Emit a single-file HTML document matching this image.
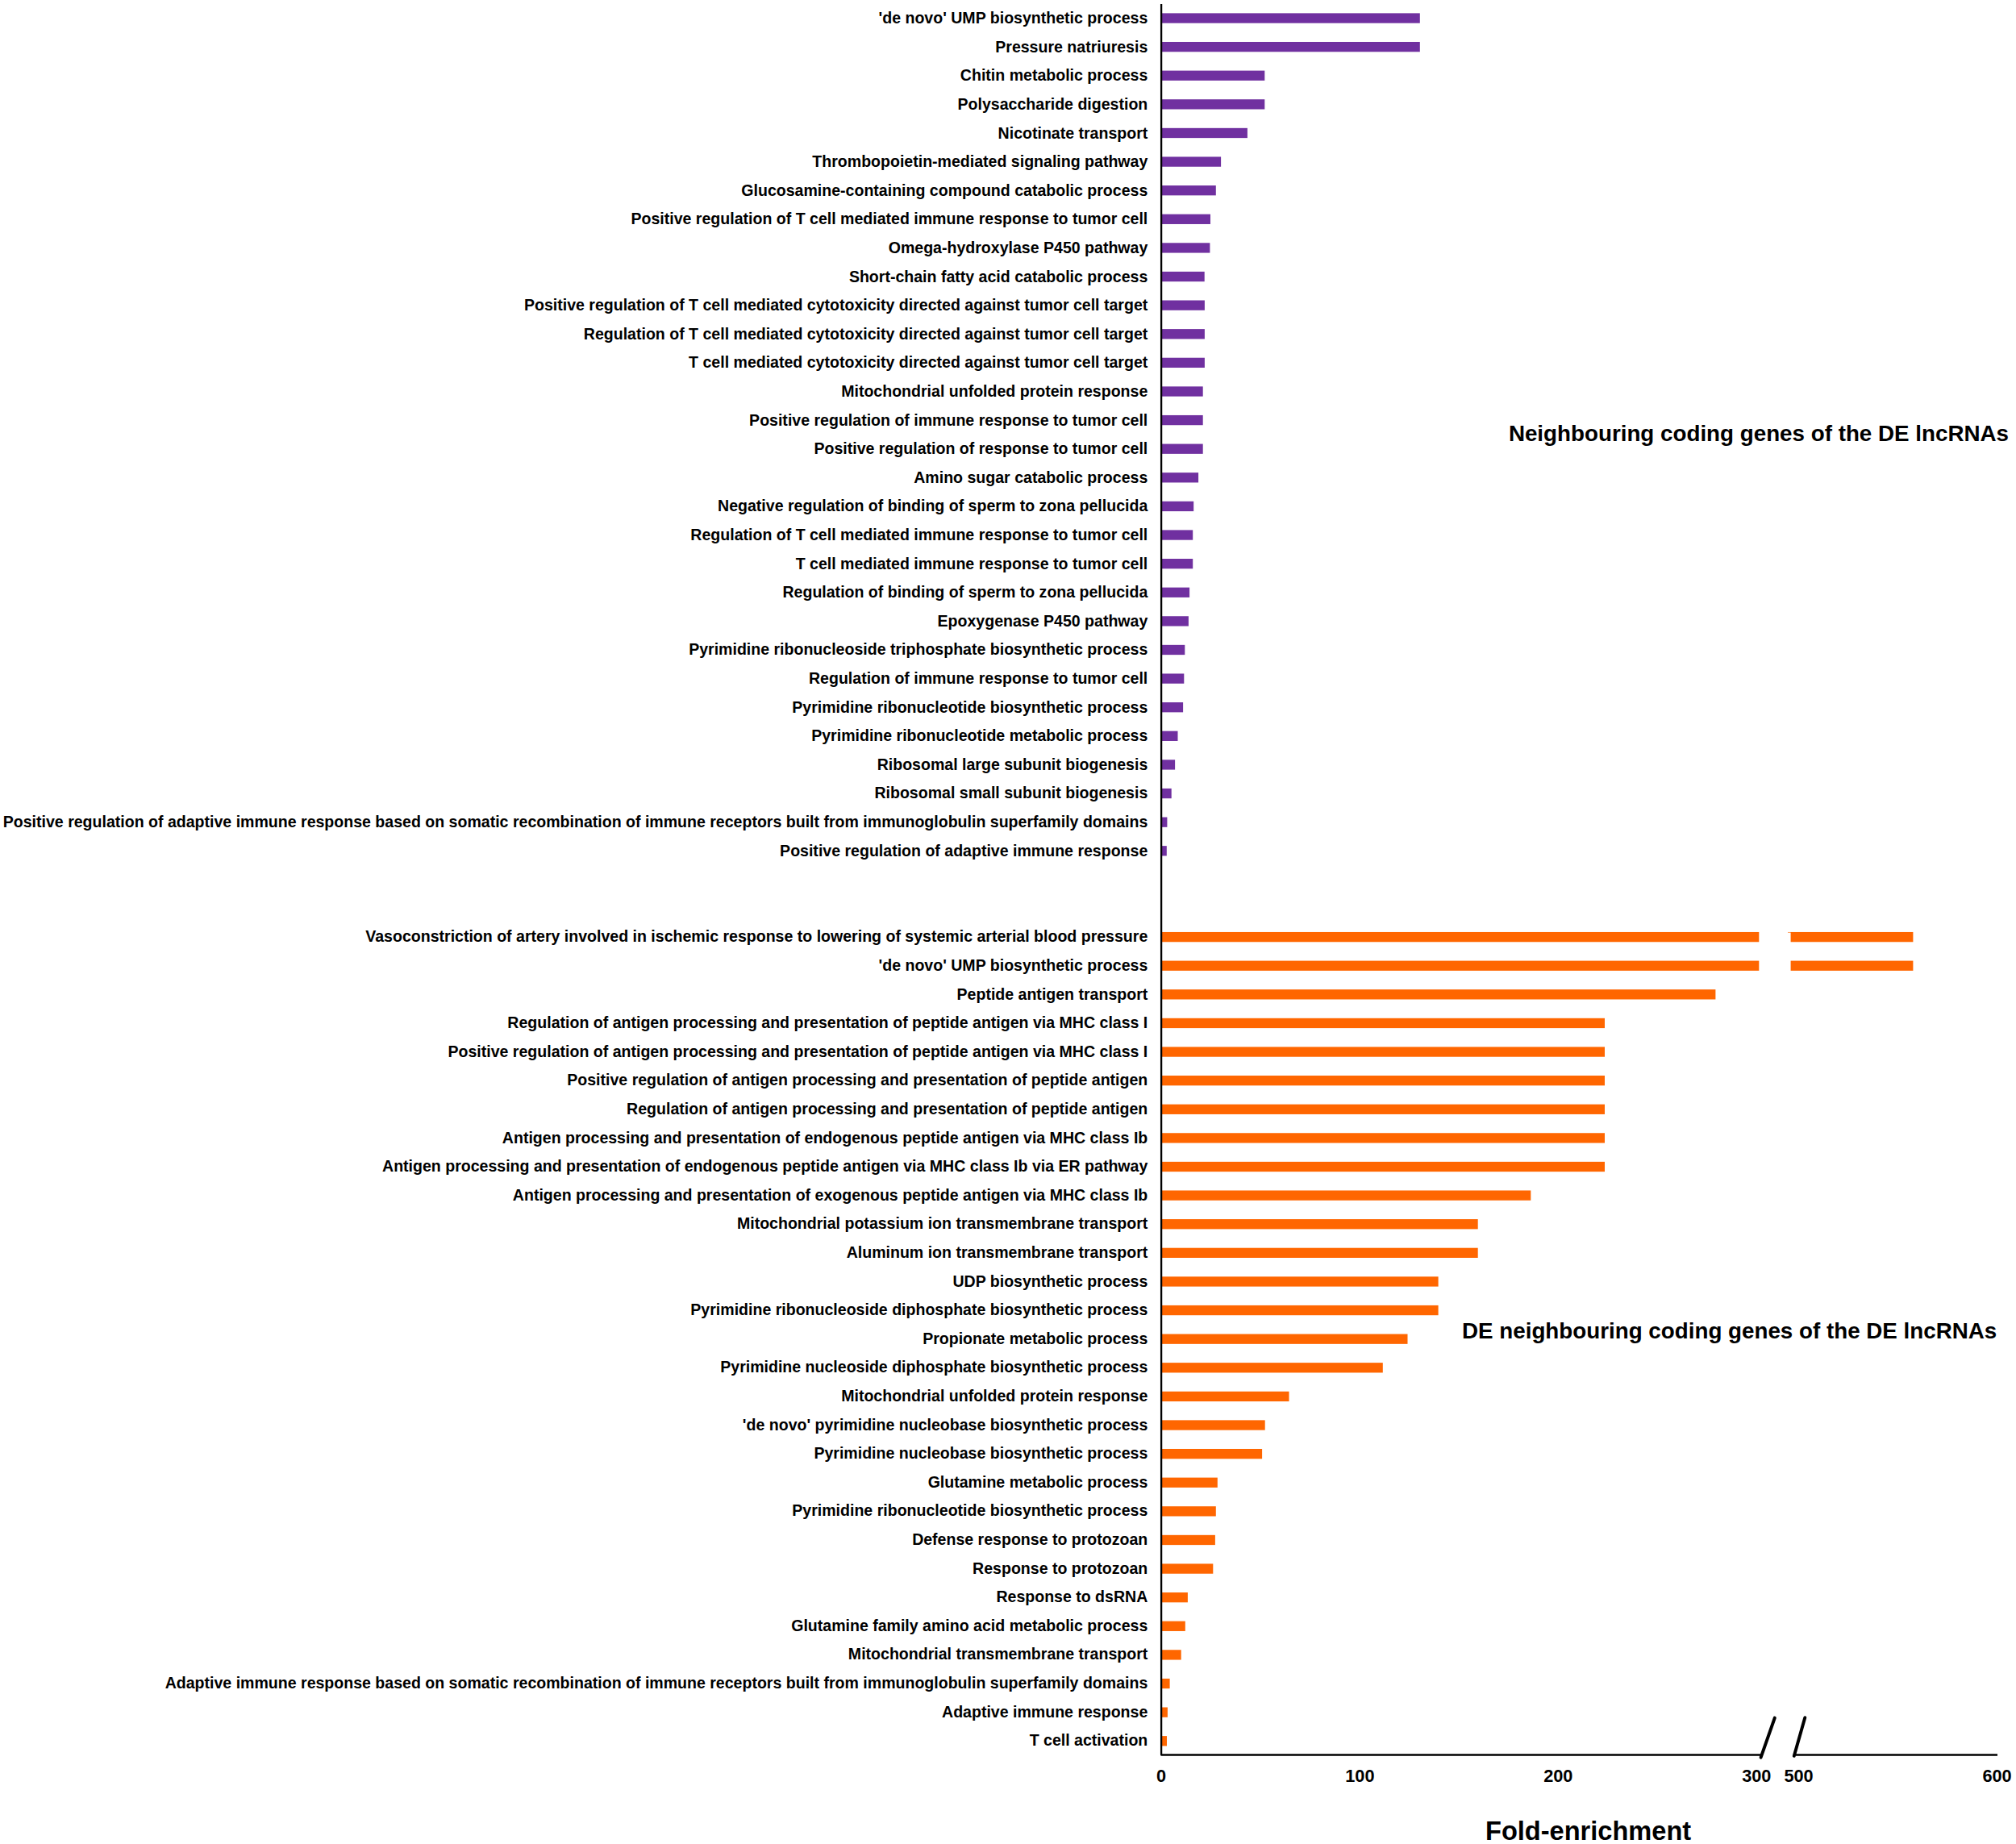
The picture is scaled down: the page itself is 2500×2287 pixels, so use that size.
<!DOCTYPE html>
<html lang="en"><head><meta charset="utf-8"><title>Fold-enrichment</title>
<style>
html,body{margin:0;padding:0;background:#fff}
body{width:2500px;height:2287px;position:relative;overflow:hidden;font-family:"Liberation Sans",Arial,sans-serif;color:#000}
svg{position:absolute;left:0;top:0}
text{font-family:"Liberation Sans",Arial,sans-serif;font-weight:bold;fill:#000}
.l{font-size:19.565px;text-anchor:end}
.t{font-size:21.7px;text-anchor:middle}
</style></head><body>
<svg width="2500" height="2287" viewBox="0 0 2500 2287">
<rect width="2500" height="2287" fill="#fff"/>

<rect x="1440.0" y="16.38" width="320.8" height="12.3" fill="#7030a0"/>
<text class="l" x="1423.3" y="29">'de novo' UMP biosynthetic process</text>
<rect x="1440.0" y="51.99" width="320.8" height="12.3" fill="#7030a0"/>
<text class="l" x="1423.3" y="65">Pressure natriuresis</text>
<rect x="1440.0" y="87.60" width="128.3" height="12.3" fill="#7030a0"/>
<text class="l" x="1423.3" y="100">Chitin metabolic process</text>
<rect x="1440.0" y="123.22" width="128.3" height="12.3" fill="#7030a0"/>
<text class="l" x="1423.3" y="136">Polysaccharide digestion</text>
<rect x="1440.0" y="158.83" width="106.9" height="12.3" fill="#7030a0"/>
<text class="l" x="1423.3" y="172">Nicotinate transport</text>
<rect x="1440.0" y="194.44" width="74.1" height="12.3" fill="#7030a0"/>
<text class="l" x="1423.3" y="207">Thrombopoietin-mediated signaling pathway</text>
<rect x="1440.0" y="230.05" width="67.8" height="12.3" fill="#7030a0"/>
<text class="l" x="1423.3" y="243">Glucosamine-containing compound catabolic process</text>
<rect x="1440.0" y="265.66" width="61.0" height="12.3" fill="#7030a0"/>
<text class="l" x="1423.3" y="278">Positive regulation of T cell mediated immune response to tumor cell</text>
<rect x="1440.0" y="301.28" width="60.4" height="12.3" fill="#7030a0"/>
<text class="l" x="1423.3" y="314">Omega-hydroxylase P450 pathway</text>
<rect x="1440.0" y="336.89" width="53.7" height="12.3" fill="#7030a0"/>
<text class="l" x="1423.3" y="350">Short-chain fatty acid catabolic process</text>
<rect x="1440.0" y="372.50" width="53.9" height="12.3" fill="#7030a0"/>
<text class="l" x="1423.3" y="385">Positive regulation of T cell mediated cytotoxicity directed against tumor cell target</text>
<rect x="1440.0" y="408.11" width="53.9" height="12.3" fill="#7030a0"/>
<text class="l" x="1423.3" y="421">Regulation of T cell mediated cytotoxicity directed against tumor cell target</text>
<rect x="1440.0" y="443.72" width="53.9" height="12.3" fill="#7030a0"/>
<text class="l" x="1423.3" y="456">T cell mediated cytotoxicity directed against tumor cell target</text>
<rect x="1440.0" y="479.34" width="51.7" height="12.3" fill="#7030a0"/>
<text class="l" x="1423.3" y="492">Mitochondrial unfolded protein response</text>
<rect x="1440.0" y="514.95" width="51.7" height="12.3" fill="#7030a0"/>
<text class="l" x="1423.3" y="528">Positive regulation of immune response to tumor cell</text>
<rect x="1440.0" y="550.56" width="51.7" height="12.3" fill="#7030a0"/>
<text class="l" x="1423.3" y="563">Positive regulation of response to tumor cell</text>
<rect x="1440.0" y="586.17" width="46.1" height="12.3" fill="#7030a0"/>
<text class="l" x="1423.3" y="599">Amino sugar catabolic process</text>
<rect x="1440.0" y="621.78" width="40.2" height="12.3" fill="#7030a0"/>
<text class="l" x="1423.3" y="634">Negative regulation of binding of sperm to zona pellucida</text>
<rect x="1440.0" y="657.40" width="39.2" height="12.3" fill="#7030a0"/>
<text class="l" x="1423.3" y="670">Regulation of T cell mediated immune response to tumor cell</text>
<rect x="1440.0" y="693.01" width="39.2" height="12.3" fill="#7030a0"/>
<text class="l" x="1423.3" y="706">T cell mediated immune response to tumor cell</text>
<rect x="1440.0" y="728.62" width="35.1" height="12.3" fill="#7030a0"/>
<text class="l" x="1423.3" y="741">Regulation of binding of sperm to zona pellucida</text>
<rect x="1440.0" y="764.23" width="33.9" height="12.3" fill="#7030a0"/>
<text class="l" x="1423.3" y="777">Epoxygenase P450 pathway</text>
<rect x="1440.0" y="799.84" width="29.3" height="12.3" fill="#7030a0"/>
<text class="l" x="1423.3" y="812">Pyrimidine ribonucleoside triphosphate biosynthetic process</text>
<rect x="1440.0" y="835.46" width="28.3" height="12.3" fill="#7030a0"/>
<text class="l" x="1423.3" y="848">Regulation of immune response to tumor cell</text>
<rect x="1440.0" y="871.07" width="27.1" height="12.3" fill="#7030a0"/>
<text class="l" x="1423.3" y="884">Pyrimidine ribonucleotide biosynthetic process</text>
<rect x="1440.0" y="906.68" width="20.5" height="12.3" fill="#7030a0"/>
<text class="l" x="1423.3" y="919">Pyrimidine ribonucleotide metabolic process</text>
<rect x="1440.0" y="942.29" width="17.1" height="12.3" fill="#7030a0"/>
<text class="l" x="1423.3" y="955">Ribosomal large subunit biogenesis</text>
<rect x="1440.0" y="977.90" width="12.7" height="12.3" fill="#7030a0"/>
<text class="l" x="1423.3" y="990">Ribosomal small subunit biogenesis</text>
<rect x="1440.0" y="1013.52" width="7.4" height="12.3" fill="#7030a0"/>
<text class="l" x="1423.3" y="1026">Positive regulation of adaptive immune response based on somatic recombination of immune receptors built from immunoglobulin superfamily domains</text>
<rect x="1440.0" y="1049.13" width="6.8" height="12.3" fill="#7030a0"/>
<text class="l" x="1423.3" y="1062">Positive regulation of adaptive immune response</text>
<rect x="1440.0" y="1155.96" width="741.3" height="12.3" fill="#ff6600"/>
<text class="l" x="1423.3" y="1168">Vasoconstriction of artery involved in ischemic response to lowering of systemic arterial blood pressure</text>
<rect x="2220.6" y="1155.96" width="151.8" height="12.3" fill="#ff6600"/>
<rect x="1440.0" y="1191.58" width="741.3" height="12.3" fill="#ff6600"/>
<text class="l" x="1423.3" y="1204">'de novo' UMP biosynthetic process</text>
<rect x="2220.6" y="1191.58" width="151.8" height="12.3" fill="#ff6600"/>
<rect x="1440.0" y="1227.19" width="687.4" height="12.3" fill="#ff6600"/>
<text class="l" x="1423.3" y="1240">Peptide antigen transport</text>
<rect x="1440.0" y="1262.80" width="550.0" height="12.3" fill="#ff6600"/>
<text class="l" x="1423.3" y="1275">Regulation of antigen processing and presentation of peptide antigen via MHC class I</text>
<rect x="1440.0" y="1298.41" width="550.0" height="12.3" fill="#ff6600"/>
<text class="l" x="1423.3" y="1311">Positive regulation of antigen processing and presentation of peptide antigen via MHC class I</text>
<rect x="1440.0" y="1334.02" width="550.0" height="12.3" fill="#ff6600"/>
<text class="l" x="1423.3" y="1346">Positive regulation of antigen processing and presentation of peptide antigen</text>
<rect x="1440.0" y="1369.64" width="550.0" height="12.3" fill="#ff6600"/>
<text class="l" x="1423.3" y="1382">Regulation of antigen processing and presentation of peptide antigen</text>
<rect x="1440.0" y="1405.25" width="550.0" height="12.3" fill="#ff6600"/>
<text class="l" x="1423.3" y="1418">Antigen processing and presentation of endogenous peptide antigen via MHC class Ib</text>
<rect x="1440.0" y="1440.86" width="550.0" height="12.3" fill="#ff6600"/>
<text class="l" x="1423.3" y="1453">Antigen processing and presentation of endogenous peptide antigen via MHC class Ib via ER pathway</text>
<rect x="1440.0" y="1476.47" width="458.3" height="12.3" fill="#ff6600"/>
<text class="l" x="1423.3" y="1489">Antigen processing and presentation of exogenous peptide antigen via MHC class Ib</text>
<rect x="1440.0" y="1512.08" width="392.7" height="12.3" fill="#ff6600"/>
<text class="l" x="1423.3" y="1524">Mitochondrial potassium ion transmembrane transport</text>
<rect x="1440.0" y="1547.70" width="392.7" height="12.3" fill="#ff6600"/>
<text class="l" x="1423.3" y="1560">Aluminum ion transmembrane transport</text>
<rect x="1440.0" y="1583.31" width="343.6" height="12.3" fill="#ff6600"/>
<text class="l" x="1423.3" y="1596">UDP biosynthetic process</text>
<rect x="1440.0" y="1618.92" width="343.6" height="12.3" fill="#ff6600"/>
<text class="l" x="1423.3" y="1631">Pyrimidine ribonucleoside diphosphate biosynthetic process</text>
<rect x="1440.0" y="1654.53" width="305.5" height="12.3" fill="#ff6600"/>
<text class="l" x="1423.3" y="1667">Propionate metabolic process</text>
<rect x="1440.0" y="1690.14" width="274.8" height="12.3" fill="#ff6600"/>
<text class="l" x="1423.3" y="1702">Pyrimidine nucleoside diphosphate biosynthetic process</text>
<rect x="1440.0" y="1725.76" width="158.5" height="12.3" fill="#ff6600"/>
<text class="l" x="1423.3" y="1738">Mitochondrial unfolded protein response</text>
<rect x="1440.0" y="1761.37" width="128.7" height="12.3" fill="#ff6600"/>
<text class="l" x="1423.3" y="1774">'de novo' pyrimidine nucleobase biosynthetic process</text>
<rect x="1440.0" y="1796.98" width="125.1" height="12.3" fill="#ff6600"/>
<text class="l" x="1423.3" y="1809">Pyrimidine nucleobase biosynthetic process</text>
<rect x="1440.0" y="1832.59" width="69.8" height="12.3" fill="#ff6600"/>
<text class="l" x="1423.3" y="1845">Glutamine metabolic process</text>
<rect x="1440.0" y="1868.20" width="67.8" height="12.3" fill="#ff6600"/>
<text class="l" x="1423.3" y="1880">Pyrimidine ribonucleotide biosynthetic process</text>
<rect x="1440.0" y="1903.82" width="66.9" height="12.3" fill="#ff6600"/>
<text class="l" x="1423.3" y="1916">Defense response to protozoan</text>
<rect x="1440.0" y="1939.43" width="64.3" height="12.3" fill="#ff6600"/>
<text class="l" x="1423.3" y="1952">Response to protozoan</text>
<rect x="1440.0" y="1975.04" width="32.9" height="12.3" fill="#ff6600"/>
<text class="l" x="1423.3" y="1987">Response to dsRNA</text>
<rect x="1440.0" y="2010.65" width="29.8" height="12.3" fill="#ff6600"/>
<text class="l" x="1423.3" y="2023">Glutamine family amino acid metabolic process</text>
<rect x="1440.0" y="2046.26" width="24.7" height="12.3" fill="#ff6600"/>
<text class="l" x="1423.3" y="2058">Mitochondrial transmembrane transport</text>
<rect x="1440.0" y="2081.88" width="10.6" height="12.3" fill="#ff6600"/>
<text class="l" x="1423.3" y="2094">Adaptive immune response based on somatic recombination of immune receptors built from immunoglobulin superfamily domains</text>
<rect x="1440.0" y="2117.49" width="7.9" height="12.3" fill="#ff6600"/>
<text class="l" x="1423.3" y="2130">Adaptive immune response</text>
<rect x="1440.0" y="2153.10" width="7.0" height="12.3" fill="#ff6600"/>
<text class="l" x="1423.3" y="2165">T cell activation</text>
<rect x="2217" y="1155.96" width="4" height="1" fill="#ff6600" opacity="0.6"/>
<path d="M1440.1 5 V2176.5 H2183.5 M2227 2176.5 H2477" fill="none" stroke="#000" stroke-width="2.3" stroke-linejoin="round"/>
<path d="M2183.6 2179.6 L2200.8 2130.6 M2224.8 2177.8 L2238.3 2130.2" fill="none" stroke="#000" stroke-width="4" stroke-linecap="round"/>
<text class="t" x="1440" y="2209.5">0</text>
<text class="t" x="1686.4" y="2209.5">100</text>
<text class="t" x="1932.3" y="2209.5">200</text>
<text class="t" x="2178.3" y="2209.5">300</text>
<text class="t" x="2230.6" y="2209.5">500</text>
<text class="t" x="2476.6" y="2209.5">600</text>
<text x="1969.6" y="2281.8" style="font-size:32.57px;text-anchor:middle">Fold-enrichment</text>
<text x="2491" y="547.2" style="font-size:27.78px;text-anchor:end">Neighbouring coding genes of the DE lncRNAs</text>
<text x="2476.3" y="1660.4" style="font-size:27.77px;text-anchor:end">DE neighbouring coding genes of the DE lncRNAs</text>
</svg></body></html>
